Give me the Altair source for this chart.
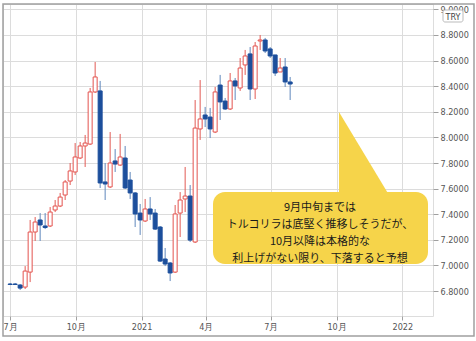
import altair as alt
import pandas as pd

# Weekly candles (TRY/JPY)
opens = [6.855, 6.855, 6.847, 6.831, 6.948, 7.261, 7.355, 7.308, 7.308, 7.433,
         7.464, 7.550, 7.659, 7.730, 7.839, 7.933, 7.948, 8.355, 8.363, 7.652,
         7.613, 7.816, 7.784, 7.839, 7.667, 7.566, 7.409, 7.347, 7.441, 7.409,
         7.300, 7.050, 7.019, 6.948, 7.409, 7.519, 7.542, 7.183, 8.066, 8.175,
         8.159, 8.042, 8.409, 8.284, 8.222, 8.441, 8.386, 8.566, 8.652, 8.378,
         8.753, 8.761, 8.691, 8.644, 8.511, 8.550, 8.433]
highs = [6.863, 6.863, 6.855, 6.995, 7.355, 7.378, 7.409, 7.409, 7.456, 7.511,
         7.566, 7.667, 7.800, 7.956, 7.964, 8.019, 8.386, 8.589, 8.441, 7.800,
         8.042, 7.909, 8.027, 7.933, 7.730, 7.573, 7.480, 7.519, 7.534, 7.441,
         7.308, 7.136, 7.027, 7.472, 7.573, 7.769, 7.628, 8.292, 8.448, 8.238,
         8.230, 8.394, 8.488, 8.308, 8.503, 8.464, 8.620, 8.683, 8.706, 8.745,
         8.800, 8.777, 8.706, 8.644, 8.620, 8.620, 8.472]
lows = [6.847, 6.847, 6.808, 6.816, 6.870, 7.191, 7.191, 7.284, 7.300, 7.417,
        7.456, 7.511, 7.628, 7.706, 7.831, 7.769, 7.941, 8.347, 7.605, 7.511,
        7.605, 7.730, 7.777, 7.597, 7.519, 7.300, 7.238, 7.339, 7.355, 7.277,
        7.027, 6.995, 6.878, 6.941, 7.222, 7.417, 7.183, 7.175, 7.980, 8.081,
        7.995, 8.034, 8.136, 8.214, 8.214, 8.292, 8.363, 8.488, 8.292, 8.300,
        8.683, 8.659, 8.620, 8.480, 8.511, 8.394, 8.292]
closes = [6.851, 6.851, 6.823, 6.956, 7.261, 7.339, 7.316, 7.296, 7.417, 7.464,
          7.534, 7.652, 7.738, 7.847, 7.933, 7.956, 8.355, 8.472, 7.644, 7.636,
          7.800, 7.792, 7.847, 7.605, 7.566, 7.402, 7.355, 7.441, 7.402, 7.284,
          7.034, 7.011, 6.941, 7.402, 7.511, 7.542, 7.198, 8.073, 8.144, 8.144,
          8.066, 8.355, 8.277, 8.222, 8.441, 8.402, 8.542, 8.636, 8.378, 8.714,
          8.761, 8.675, 8.636, 8.503, 8.542, 8.433, 8.417]
dates = pd.date_range("2020-07-01", periods=len(opens), freq="7D")

y_ticks = [6.8, 7.0, 7.2, 7.4, 7.6, 7.8, 8.0, 8.2, 8.4, 8.6, 8.8, 9.0]
x_ticks = [alt.DateTime(year=2020, month=7, date=1),
           alt.DateTime(year=2020, month=10, date=1),
           alt.DateTime(year=2021, month=1, date=1),
           alt.DateTime(year=2021, month=4, date=1),
           alt.DateTime(year=2021, month=7, date=1),
           alt.DateTime(year=2021, month=10, date=1),
           alt.DateTime(year=2022, month=1, date=1)]

note_lines = ["9月中旬までは",
              "トルコリラは底堅く推移しそうだが、",
              "10月以降は本格的な",
              "利上げがない限り、下落すると予想"]

df = pd.DataFrame({"date": dates, "open": opens, "high": highs,
                   "low": lows, "close": closes})
df["up"] = df["close"] >= df["open"]

RED = "#e4534e"
RED_WICK = "#e25a55"
BLUE = "#1c4f9c"
BLUE_WICK = "#5f87bd"
YELLOW = "#f6d44a"
GRID = "#dcdcdc"
FRAME = "#a0a0a0"

x_axis = alt.Axis(values=x_ticks, title=None, grid=True,
                  gridColor=GRID, domain=False, tickColor=FRAME,
                  tickSize=4, labelPadding=2, labelFlush=False,
                  labelOverlap=False, labelBound=False,
                  labelFontSize=9, labelColor="#555555",
                  labelFont="DejaVu Sans Condensed",
                  labelExpr="month(datum.value) == 0 ? year(datum.value) + '' : (month(datum.value) + 1) + '月'")
x_scale = alt.Scale(domain=[alt.DateTime(year=2020, month=6, date=28),
                            alt.DateTime(year=2022, month=2, date=6)])

y_scale = alt.Scale(domain=[6.605, 9.042], nice=False, zero=False)
y_axis = alt.Axis(values=y_ticks, format=".4f", orient="right", title=None,
                  grid=True, gridColor=GRID, domain=False, tickColor=FRAME,
                  tickSize=5, labelPadding=2, labelFontSize=9,
                  labelOverlap=False, labelFlush=False,
                  labelColor="#555555", labelFont="DejaVu Sans Condensed")

base = alt.Chart(df).encode(x=alt.X("date:T", scale=x_scale, axis=x_axis))

wicks = base.mark_rule(strokeWidth=1).encode(
    y=alt.Y("low:Q", scale=y_scale, axis=y_axis),
    y2="high:Q",
    color=alt.condition("datum.up", alt.value(RED_WICK), alt.value(BLUE_WICK)),
)

bodies = base.mark_bar(size=4, strokeWidth=1).encode(
    y=alt.Y("open:Q", scale=y_scale, axis=y_axis),
    y2="close:Q",
    fill=alt.condition("datum.up", alt.value("#ffffff"), alt.value(BLUE)),
    stroke=alt.condition("datum.up", alt.value(RED), alt.value(BLUE)),
)

frame = alt.Chart(pd.DataFrame({"k": [0]})).mark_rect(
    fillOpacity=0, stroke=FRAME, strokeWidth=1.5).encode(
    x=alt.value(0), x2=alt.value(471), y=alt.value(0), y2=alt.value(332))

try_box = alt.Chart(pd.DataFrame({"k": [0]})).mark_rect(
    fill="#ffffff", stroke="#bbbbbb", strokeWidth=1, cornerRadius=2).encode(
    x=alt.value(440), x2=alt.value(460), y=alt.value(6), y2=alt.value(18))
try_text = alt.Chart(pd.DataFrame({"k": [0]})).mark_text(
    text="TRY", fontSize=9, color="#444444", font="DejaVu Sans Condensed",
    align="center", baseline="middle").encode(x=alt.value(450), y=alt.value(12.5))

pointer = alt.Chart(pd.DataFrame({"k": [0]})).mark_point(
    shape="M-0.48,-0.88L-0.48,0.88L0.58,0.88Z", size=10000, filled=True,
    fill=YELLOW, opacity=1, strokeWidth=0).encode(
    x=alt.value(360), y=alt.value(152))

box = alt.Chart(pd.DataFrame({"k": [0]})).mark_rect(
    fill=YELLOW, cornerRadius=12).encode(
    x=alt.value(210), x2=alt.value(425), y=alt.value(188), y2=alt.value(260))

note = alt.Chart(pd.DataFrame({"k": [0]})).mark_text(
    fontSize=11, font="Noto Sans CJK JP", color="#1a1a1a", align="center",
    baseline="middle", lineHeight=17.2).encode(
    x=alt.value(317), y=alt.value(203.5), text=alt.value(note_lines))

chart = alt.layer(wicks, bodies, frame, try_box, try_text, pointer, box, note).properties(
    width=430, height=312,
    autosize=alt.AutoSizeParams(type="none"),
    padding={"left": 3, "top": 4, "right": 43, "bottom": 25},
).configure_view(stroke=FRAME, strokeWidth=1.5).configure(background="#ffffff")

chart.save("out.html", embed_options={"renderer": "svg", "actions": False})
